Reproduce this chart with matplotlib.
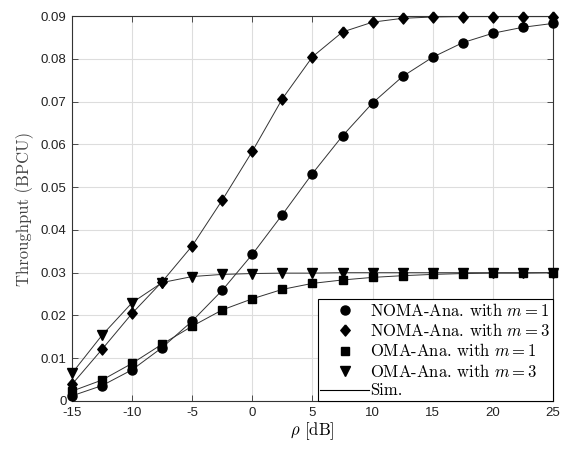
import matplotlib
matplotlib.use("Agg")
import matplotlib.pyplot as plt
from matplotlib.lines import Line2D

plt.rcParams['mathtext.fontset'] = 'cm'

rho_db = [-15, -12.5, -10, -7.5, -5, -2.5, 0, 2.5, 5, 7.5, 10, 12.5, 15, 17.5, 20, 22.5, 25]

noma_m1 = [0.0012, 0.0036, 0.0073, 0.0125, 0.0187, 0.0259, 0.0343, 0.0436, 0.0532,
           0.0620, 0.0697, 0.0759, 0.0804, 0.0838, 0.0860, 0.0874, 0.0883]
noma_m3 = [0.0039, 0.0121, 0.0205, 0.0279, 0.0363, 0.0470, 0.0584, 0.0707, 0.0805,
           0.0863, 0.0886, 0.0895, 0.0898, 0.0899, 0.0899, 0.0899, 0.0899]
oma_m1 = [0.0023, 0.0049, 0.0088, 0.0133, 0.0175, 0.0213, 0.0239, 0.0261, 0.0275,
          0.0283, 0.0289, 0.0293, 0.0296, 0.0298, 0.0299, 0.0299, 0.0300]
oma_m3 = [0.0065, 0.0154, 0.0230, 0.0277, 0.0291, 0.0296, 0.0298, 0.0299, 0.0299,
          0.0300, 0.0300, 0.0300, 0.0300, 0.0300, 0.0300, 0.0300, 0.0300]

xticks = [-15, -10, -5, 0, 5, 10, 15, 20, 25]
xticklabels = ['-15', '-10', '-5', '0', '5', '10', '15', '20', '25']
yticks = [0, 0.01, 0.02, 0.03, 0.04, 0.05, 0.06, 0.07, 0.08, 0.09]
yticklabels = ['0', '0.01', '0.02', '0.03', '0.04', '0.05', '0.06', '0.07', '0.08', '0.09']

labels = ['NOMA-Ana. with $m=1$', 'NOMA-Ana. with $m=3$',
          'OMA-Ana. with $m=1$', 'OMA-Ana. with $m=3$', 'Sim.']

fig = plt.figure(figsize=(5.63, 4.49), dpi=100)
ax = fig.add_axes([0.128, 0.107, 0.854, 0.857])

diamond = [(0, 1), (0.85, 0), (0, -1), (-0.85, 0), (0, 1)]
lc = '#333333'
series = [(noma_m1, 'o', 6.5), (noma_m3, diamond, 8.0), (oma_m1, 's', 5.6), (oma_m3, 'v', 6.8)]
for ys, mk, sz in series:
    ax.plot(rho_db, ys, color=lc, lw=0.7, zorder=3)
    ax.plot(rho_db, ys, linestyle='none', marker=mk, ms=sz, color='black',
            markeredgecolor='black', zorder=4, clip_on=False)

ax.set_xlim(-15, 25)
ax.set_ylim(0, 0.09)
ax.set_xticks(xticks)
ax.set_xticklabels(xticklabels)
ax.set_yticks(yticks)
ax.set_yticklabels(yticklabels)
for lab in ax.get_xticklabels() + ax.get_yticklabels():
    lab.set_fontfamily('Liberation Sans')
    lab.set_fontsize(9.5)
    lab.set_color('#222222')

ax.grid(True, color='#dddddd', lw=0.8)
ax.set_axisbelow(True)
ax.tick_params(direction='in', top=True, right=True, length=4, width=0.6, color='#333333', pad=4)
for s in ax.spines.values():
    s.set_color('#333333')
    s.set_linewidth(0.8)

ax.set_xlabel(r'$\rho$ [dB]', fontfamily='cmr10', fontsize=12, labelpad=1)
ax.set_ylabel('Throughput (BPCU)', fontfamily='cmr10', fontsize=12, labelpad=5,
              color='#444444')

handles = [Line2D([], [], linestyle='none', marker=mk, ms=sz, color='black')
           for _, mk, sz in series]
handles.append(Line2D([], [], color='black', lw=0.8))
leg = ax.legend(handles, labels, loc='lower right', prop={'family': 'cmr10', 'size': 12},
                frameon=True, fancybox=False, framealpha=1, edgecolor='black',
                borderpad=0.15, labelspacing=0.2, handlelength=2.9, handletextpad=0.1,
                borderaxespad=0.0)
leg.get_frame().set_linewidth(0.8)

fig.savefig('out.png', dpi=100)
